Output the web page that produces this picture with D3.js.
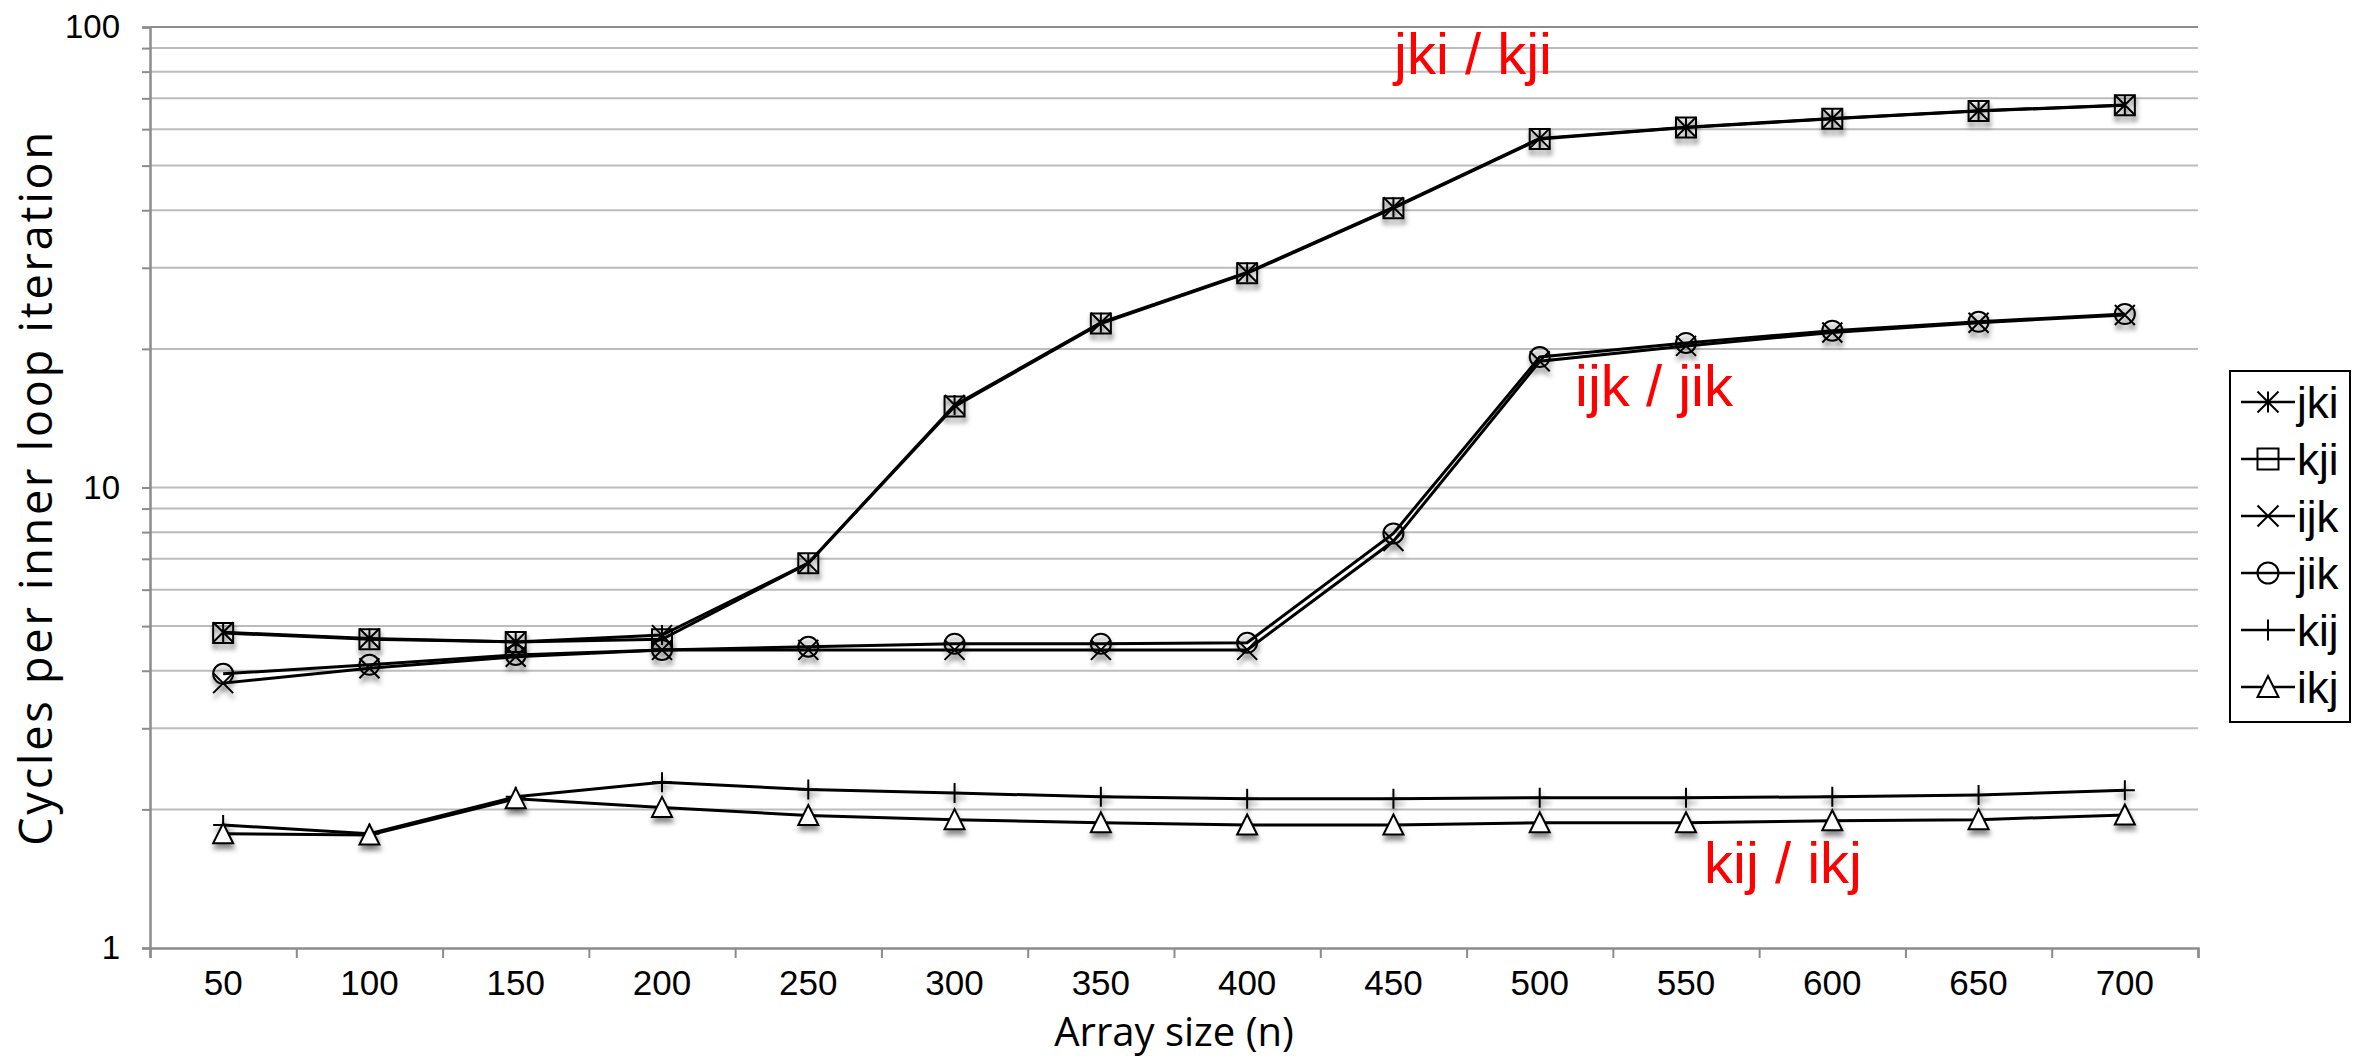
<!DOCTYPE html>
<html>
<head>
<meta charset="utf-8">
<script src="https://cdn.jsdelivr.net/npm/d3@7"></script>
<style>
  body { margin: 0; background: #fff; }
  svg { display: block; }
  .tick text { fill: #000; }
</style>
</head>
<body>
<div id="chart"></div>
<script>
var width = 2368;
var height = 1062;

// array sizes (x categories)
var sizes = [50, 100, 150, 200, 250, 300, 350, 400, 450, 500, 550, 600, 650, 700];

// cycles per inner loop iteration
var jki = [4.85, 4.70, 4.62, 4.78, 6.85, 15.1, 22.8, 29.3, 40.6, 57.3, 60.6, 63.3, 65.8, 67.7];
var kji = [4.83, 4.68, 4.62, 4.68, 6.85, 15.0, 22.7, 29.2, 40.4, 57.1, 60.5, 63.2, 65.7, 67.6];
var ijk = [3.76, 4.05, 4.29, 4.44, 4.44, 4.44, 4.44, 4.44, 7.65, 18.8, 20.3, 21.7, 22.8, 23.7];
var jik = [3.94, 4.12, 4.33, 4.44, 4.51, 4.58, 4.58, 4.60, 7.95, 19.2, 20.6, 21.9, 22.9, 23.8];
var kij = [1.85, 1.77, 2.13, 2.29, 2.21, 2.17, 2.13, 2.11, 2.11, 2.12, 2.12, 2.13, 2.15, 2.20];
var ikj = [1.77, 1.76, 2.11, 2.02, 1.94, 1.90, 1.87, 1.85, 1.85, 1.87, 1.87, 1.89, 1.90, 1.945];

var yTicks = [1, 10, 100];
var yGrid = [2, 3, 4, 5, 6, 7, 8, 9, 10, 20, 30, 40, 50, 60, 70, 80, 90];

var series = [
  {name: "jki", values: jki, marker: "asterisk"},
  {name: "kji", values: kji, marker: "square"},
  {name: "ijk", values: ijk, marker: "times"},
  {name: "jik", values: jik, marker: "circle"},
  {name: "kij", values: kij, marker: "plus"},
  {name: "ikj", values: ikj, marker: "triangle"}
];

var notes = [
  {text: "jki / kji", x: 1473, y: 74},
  {text: "ijk / jik", x: 1654, y: 406},
  {text: "kij / ikj", x: 1783, y: 883}
];

var plotL = 150, plotR = 2198, plotT = 27, plotB = 948;
var sans = '"Liberation Sans", Arial, sans-serif';

var svg = d3.select("#chart")
    .append("svg")
    .attr("width", width)
    .attr("height", height);

var defs = svg.append("defs");
var shadow = defs.append("filter")
    .attr("id", "shadow")
    .attr("x", "-50%").attr("y", "-50%")
    .attr("width", "200%").attr("height", "200%");
shadow.append("feDropShadow")
    .attr("dx", 1).attr("dy", 5)
    .attr("stdDeviation", 2.5)
    .attr("flood-color", "#000")
    .attr("flood-opacity", 0.45);

var x = d3.scaleBand().domain(sizes).range([plotL, plotR]);
var xEdge = d3.scaleLinear().domain([0, sizes.length]).range([plotL, plotR]);
var y = d3.scaleLog().domain([1, 100]).range([plotB, plotT]);

function cx(i) { return x(sizes[i]) + x.bandwidth() / 2; }

// grid
svg.append("g")
    .selectAll("line")
    .data(yGrid)
    .enter().append("line")
    .attr("x1", plotL).attr("x2", plotR)
    .attr("y1", function(d) { return y(d); })
    .attr("y2", function(d) { return y(d); })
    .attr("stroke", "#bcbcbc")
    .attr("stroke-width", 2);

svg.append("line")
    .attr("x1", plotL).attr("x2", plotR)
    .attr("y1", y(100)).attr("y2", y(100))
    .attr("stroke", "#8c8c8c").attr("stroke-width", 2);

// y axis: minor ticks then labelled ticks
var yMinor = d3.axisLeft(y).tickValues(yGrid).tickSize(8).tickFormat("");
svg.append("g")
    .attr("class", "yMinor")
    .attr("transform", `translate(${plotL}, 0)`)
    .call(yMinor);

var Y_Axis = d3.axisLeft(y).tickValues(yTicks).tickSize(8).tickPadding(22)
    .tickFormat(d3.format("d"));
svg.append("g")
    .attr("class", "Y_Axis")
    .attr("transform", `translate(${plotL}, 0)`)
    .call(Y_Axis);

// x axis: ticks on category edges, labels in the middle
var xTicks = d3.axisBottom(xEdge).tickValues(d3.range(sizes.length + 1))
    .tickSize(10).tickFormat("");
svg.append("g")
    .attr("class", "xTicks")
    .attr("transform", `translate(0, ${plotB})`)
    .call(xTicks);

var X_Axis = d3.axisBottom(x).tickSize(0).tickPadding(22);
svg.append("g")
    .attr("class", "X_Axis")
    .attr("transform", `translate(0, ${plotB})`)
    .call(X_Axis);

svg.selectAll(".domain").attr("stroke", "#8c8c8c").attr("stroke-width", 2.5);
svg.selectAll(".tick line").attr("stroke", "#8c8c8c").attr("stroke-width", 2);
svg.selectAll(".X_Axis .tick text")
    .attr("font-family", sans).attr("font-size", 35);
svg.selectAll(".Y_Axis .tick text")
    .attr("font-family", sans).attr("font-size", 33);
svg.select(".Y_Axis .domain").remove();
svg.select(".X_Axis .domain").remove();

// axis titles
svg.append("text")
    .attr("x", (plotL + plotR) / 2)
    .attr("y", 1046)
    .attr("text-anchor", "middle")
    .attr("font-family", '"Open Sans", sans-serif')
    .attr("font-size", 40)
    .text("Array size (n)");

svg.append("text")
    .attr("transform", `translate(52, ${(plotT + plotB) / 2}) rotate(-90)`)
    .attr("text-anchor", "middle")
    .attr("font-family", '"Open Sans", sans-serif')
    .attr("font-size", 45)
    .attr("letter-spacing", 2.8)
    .text("Cycles per inner loop iteration");

// marker shapes
function markerPath(type, r) {
  if (type === "asterisk") {
    return `M${-r},${-r}L${r},${r}M${-r},${r}L${r},${-r}M0,${-r}L0,${r}`;
  }
  if (type === "square") {
    return `M${-r},${-r}H${r}V${r}H${-r}Z`;
  }
  if (type === "times") {
    return `M${-r},${-r}L${r},${r}M${-r},${r}L${r},${-r}`;
  }
  if (type === "circle") {
    return d3.symbol(d3.symbolCircle, Math.PI * r * r)();
  }
  if (type === "plus") {
    return `M${-r},0H${r}M0,${-r}V${r}`;
  }
  return `M0,${-r * 1.05}L${r},${r * 0.95}H${-r}Z`;
}

var line = d3.line()
    .x(function(d, i) { return cx(i); })
    .y(function(d) { return y(d); });

var plot = svg.append("g");

series.forEach(function(s) {
  plot.append("path")
      .datum(s.values)
      .attr("d", line)
      .attr("fill", "none")
      .attr("stroke", "#000")
      .attr("stroke-width", 3);
});

series.forEach(function(s) {
  plot.append("g")
      .attr("filter", "url(#shadow)")
      .selectAll("path")
      .data(s.values)
      .enter().append("path")
      .attr("transform", function(d, i) { return `translate(${cx(i)}, ${y(d)})`; })
      .attr("d", markerPath(s.marker, 10))
      .attr("fill", s.marker === "triangle" ? "#fff" : "none")
      .attr("stroke", "#000")
      .attr("stroke-width", 2);
});

// annotations
svg.append("g")
    .selectAll("text")
    .data(notes)
    .enter().append("text")
    .attr("x", function(d) { return d.x; })
    .attr("y", function(d) { return d.y; })
    .attr("text-anchor", "middle")
    .attr("font-family", sans)
    .attr("font-size", 58)
    .attr("fill", "#ff0000")
    .text(function(d) { return d.text; });

// legend
var legend = svg.append("g").attr("transform", "translate(2230, 371)");
legend.append("rect")
    .attr("width", 120).attr("height", 351)
    .attr("fill", "#fff")
    .attr("stroke", "#000").attr("stroke-width", 2);

var item = legend.selectAll("g.item")
    .data(series)
    .enter().append("g")
    .attr("class", "item")
    .attr("transform", function(d, i) { return `translate(0, ${31 + i * 57})`; });

item.append("line")
    .attr("x1", 11).attr("x2", 65)
    .attr("stroke", "#000").attr("stroke-width", 2.5);
item.append("path")
    .attr("transform", "translate(38, 0)")
    .attr("d", function(d) { return markerPath(d.marker, 10.5); })
    .attr("fill", function(d) { return d.marker === "triangle" ? "#fff" : "none"; })
    .attr("stroke", "#000").attr("stroke-width", 2);
item.append("text")
    .attr("x", 67)
    .attr("dy", "0.36em")
    .attr("font-family", sans)
    .attr("font-size", 44)
    .text(function(d) { return d.name; });
</script>
</body>
</html>
